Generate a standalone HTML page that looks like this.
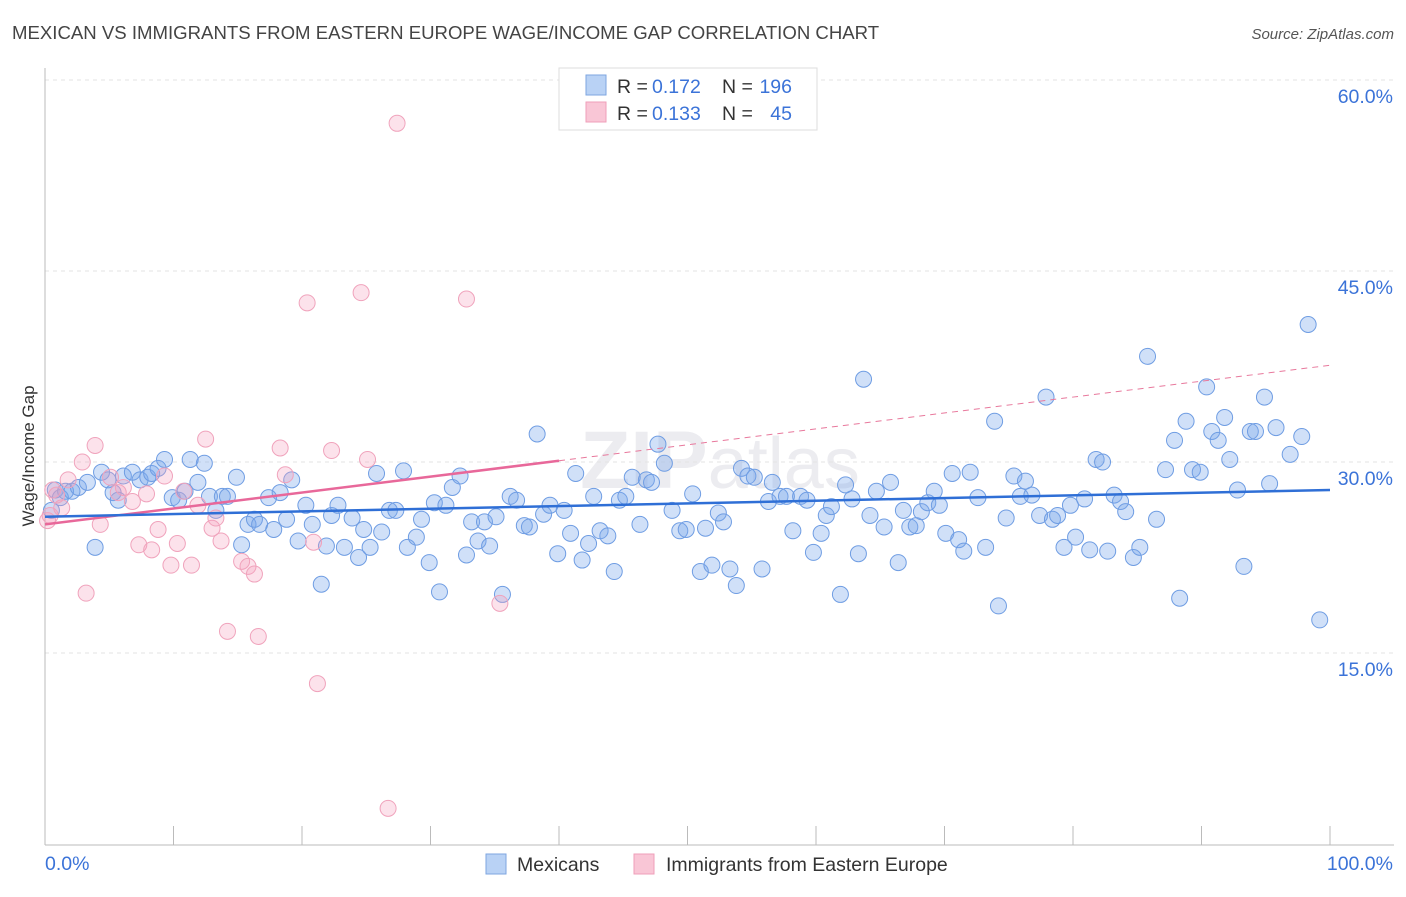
<!DOCTYPE html>
<html><head><meta charset="utf-8"><style>
body{margin:0;background:#fff;font-family:"Liberation Sans",sans-serif;}
svg text{font-family:"Liberation Sans",sans-serif;}
</style></head><body>
<svg id="chart" width="1406" height="892" xmlns="http://www.w3.org/2000/svg">
<text x="12" y="39" font-size="18.6" fill="#444">MEXICAN VS IMMIGRANTS FROM EASTERN EUROPE WAGE/INCOME GAP CORRELATION CHART</text>
<text x="1394" y="39" font-size="15" fill="#555" font-style="italic" text-anchor="end">Source: ZipAtlas.com</text>
<text x="720" y="488" font-size="82" fill="#ececf0" text-anchor="middle" font-family="Liberation Serif" font-weight="bold">ZIP<tspan font-family="Liberation Sans" font-weight="normal" font-size="72">atlas</tspan></text>
<g id="grid"></g>
<g id="axes"></g>
<g id="marks"></g>
<g>
<rect x="559" y="68" width="258" height="62" fill="#fff" stroke="#ddd"/>
<rect x="586" y="75" width="20" height="20" fill="#b9d2f5" stroke="#7ea6e0"/>
<rect x="586" y="102" width="20" height="20" fill="#f9c6d6" stroke="#ef9fb9"/>
<text x="617" y="93" font-size="19.5" fill="#333">R =</text>
<text x="652" y="93" font-size="19.5" fill="#3b73d8">0.172</text>
<text x="722" y="93" font-size="19.5" fill="#333">N =</text>
<text x="792" y="93" font-size="19.5" fill="#3b73d8" text-anchor="end">196</text>
<text x="617" y="120" font-size="19.5" fill="#333">R =</text>
<text x="652" y="120" font-size="19.5" fill="#3b73d8">0.133</text>
<text x="722" y="120" font-size="19.5" fill="#333">N =</text>
<text x="792" y="120" font-size="19.5" fill="#3b73d8" text-anchor="end">45</text>
</g>
<g>
<rect x="486" y="854" width="20" height="20" fill="#b9d2f5" stroke="#7ea6e0"/>
<text x="517" y="871" font-size="19.5" fill="#333">Mexicans</text>
<rect x="634" y="854" width="20" height="20" fill="#f9c6d6" stroke="#ef9fb9"/>
<text x="666" y="871" font-size="19.5" fill="#333">Immigrants from Eastern Europe</text>
</g>
<text transform="translate(34,456) rotate(-90)" font-size="17" fill="#333" text-anchor="middle">Wage/Income Gap</text>
</svg>
<script>
const mexX=[0.5,0.8,1.2,1.6,2.1,2.6,3.3,3.9,4.4,4.9,5.3,5.7,6.1,6.8,7.4,8.0,8.3,8.8,9.3,9.9,10.4,10.9,11.3,11.9,12.4,12.8,13.3,13.8,14.2,14.9,15.3,15.8,16.3,16.7,17.4,17.8,18.3,18.8,19.2,19.7,20.3,20.8,21.5,21.9,22.3,22.8,23.3,23.9,24.4,24.8,25.3,25.8,26.2,26.8,27.3,27.9,28.2,28.9,29.3,29.9,30.3,30.7,31.2,31.7,32.3,32.8,33.2,33.7,34.2,34.6,35.1,35.6,36.2,36.7,37.3,37.7,38.3,38.8,39.3,39.9,40.4,40.9,41.3,41.8,42.3,42.7,43.2,43.8,44.3,44.7,45.2,45.7,46.3,46.8,47.2,47.7,48.2,48.8,49.4,49.9,50.4,51.0,51.4,51.9,52.4,52.8,53.3,53.8,54.2,54.7,55.2,55.8,56.3,56.6,57.2,57.7,58.2,58.8,59.3,59.8,60.4,60.8,61.2,61.9,62.3,62.8,63.3,63.7,64.2,64.7,65.3,65.8,66.4,66.8,67.3,67.8,68.2,68.7,69.2,69.6,70.1,70.6,71.1,71.5,72.0,72.6,73.2,73.9,74.2,74.8,75.4,75.9,76.3,76.8,77.4,77.9,78.4,78.8,79.3,79.8,80.2,80.9,81.3,81.8,82.3,82.7,83.2,83.7,84.1,84.7,85.2,85.8,86.5,87.2,87.9,88.3,88.8,89.3,89.9,90.4,90.8,91.3,91.8,92.2,92.8,93.3,93.8,94.2,94.9,95.3,95.8,96.9,97.8,98.3,99.2];
const mexY=[26.2,27.8,27.2,27.7,27.7,28.0,28.4,23.3,29.2,28.6,27.6,27.0,28.9,29.2,28.6,28.8,29.1,29.5,30.2,27.2,27.0,27.7,30.2,28.4,29.9,27.3,26.2,27.3,27.3,28.8,23.5,25.1,25.5,25.1,27.2,24.7,27.6,25.5,28.6,23.8,26.6,25.1,20.4,23.4,25.8,26.6,23.3,25.6,22.5,24.7,23.3,29.1,24.5,26.2,26.2,29.3,23.3,24.1,25.5,22.1,26.8,19.8,26.6,28.0,28.9,22.7,25.3,23.8,25.3,23.4,25.7,19.6,27.3,27.0,25.0,24.9,32.2,25.9,26.6,22.8,26.2,24.4,29.1,22.3,23.6,27.3,24.6,24.2,21.4,27.0,27.3,28.8,25.1,28.6,28.4,31.4,29.9,26.2,24.6,24.7,27.5,21.4,24.8,21.9,26.0,25.3,21.6,20.3,29.5,28.9,28.8,21.6,26.9,28.4,27.3,27.3,24.6,27.3,27.0,22.9,24.4,25.8,26.5,19.6,28.2,27.1,22.8,36.5,25.8,27.7,24.9,28.4,22.1,26.2,24.9,25.0,26.1,26.8,27.7,26.6,24.4,29.1,23.9,23.0,29.2,27.2,23.3,33.2,18.7,25.6,28.9,27.3,28.5,27.4,25.8,35.1,25.5,25.8,23.3,26.6,24.1,27.1,23.1,30.2,30.0,23.0,27.4,26.9,26.1,22.5,23.3,38.3,25.5,29.4,31.7,19.3,33.2,29.4,29.2,35.9,32.4,31.7,33.5,30.2,27.8,21.8,32.4,32.4,35.1,28.3,32.7,30.6,32.0,40.8,17.6];
const eeX=[0.6,1.3,1.8,0.9,0.4,2.9,3.9,3.2,4.3,5.1,6.1,5.7,6.8,7.9,7.3,8.3,8.8,9.3,9.8,10.3,10.8,11.4,11.9,12.5,13.0,13.3,13.7,14.2,15.3,15.8,16.3,16.6,18.3,18.7,20.4,20.9,21.2,22.3,24.6,25.1,26.7,27.4,32.8,35.4,0.2];
const eeY=[27.8,26.4,28.6,27.4,25.8,30.0,31.3,19.7,25.1,28.8,28.0,27.6,26.9,27.5,23.5,23.1,24.7,28.9,21.9,23.6,27.7,21.9,26.6,31.8,24.8,25.6,23.8,16.7,22.2,21.8,21.2,16.3,31.1,29.0,42.5,23.7,12.6,30.9,43.3,30.2,2.8,56.6,42.8,18.9,25.4];
const yTicks=[15,30,45,60];
const yTickLabels=["15.0%","30.0%","45.0%","60.0%"];
const xTicks=[0,10,20,30,40,50,60,70,80,90,100];
const mexTrend=[25.7,27.8];
const eeTrend=[25.1,37.6];
const eeSolidEnd=40;

const NS="http://www.w3.org/2000/svg";
const X=v=>45+v*12.85;
const Y=v=>844-v*12.733;
function mk(tag,attrs,parent){const e=document.createElementNS(NS,tag);for(const k in attrs)e.setAttribute(k,attrs[k]);document.getElementById(parent).appendChild(e);return e;}

yTicks.forEach((t,i)=>{
  const g=mk('line',{x1:45,x2:1394,y1:Y(t),y2:Y(t),stroke:'#e3e3e3','stroke-dasharray':'4,4'},'grid');
  
  
  const l=mk('text',{x:1393,y:Y(t)+23,'font-size':19.5,fill:'#3b73d8','text-anchor':'end'},'axes');
  l.textContent=yTickLabels[i];
  
  
});
const ya=mk('line',{x1:45,x2:45,y1:68,y2:845,stroke:'#bbb'},'axes');


const xa=mk('line',{x1:45,x2:1394,y1:845,y2:845,stroke:'#bbb'},'axes');


xTicks.forEach(t=>{
  const tk=mk('line',{x1:X(t),x2:X(t),y1:826,y2:845,stroke:'#bbb'},'axes');
  
  
});
const xl0=mk('text',{x:45,y:870,'font-size':19.5,fill:'#3b73d8'},'axes');xl0.textContent='0.0%';


const xl1=mk('text',{x:1393,y:870,'font-size':19.5,fill:'#3b73d8','text-anchor':'end'},'axes');xl1.textContent='100.0%';



mexX.forEach((x,i)=>{
  const c=mk('circle',{cx:X(x),cy:Y(mexY[i]),r:8,fill:'rgba(120,165,235,0.35)',stroke:'#6f9de3','stroke-width':1},'marks');
  
  
});
eeX.forEach((x,i)=>{
  const c=mk('circle',{cx:X(x),cy:Y(eeY[i]),r:8,fill:'rgba(245,160,190,0.3)',stroke:'#f0a3bc','stroke-width':1},'marks');
  
  
});
const ev=x=>eeTrend[0]+(eeTrend[1]-eeTrend[0])*x/100;
const pd=mk('line',{x1:X(eeSolidEnd),y1:Y(ev(eeSolidEnd)),x2:X(100),y2:Y(ev(100)),stroke:'#e8789c','stroke-width':1,'stroke-dasharray':'6,5'},'marks');


const ps=mk('line',{x1:X(0),y1:Y(ev(0)),x2:X(eeSolidEnd),y2:Y(ev(eeSolidEnd)),stroke:'#e8689a','stroke-width':2.5},'marks');


const bl=mk('line',{x1:X(0),y1:Y(mexTrend[0]),x2:X(100),y2:Y(mexTrend[1]),stroke:'#2f6fd6','stroke-width':2.5},'marks');


</script>
</body></html>
